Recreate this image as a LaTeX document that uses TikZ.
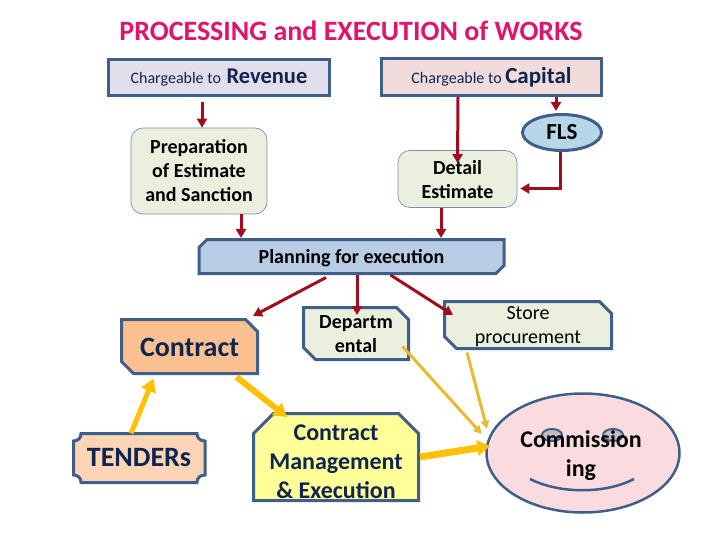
\documentclass[tikz,border=0pt]{standalone}
\usepackage{fontspec}
\setmainfont{Carlito}
\usetikzlibrary{shapes,shapes.misc,shapes.geometric,arrows.meta,positioning,calc}
\definecolor{edgeblue}{HTML}{3F5F8A}
\definecolor{navytext}{HTML}{0F2550}
\definecolor{arrowred}{HTML}{A00D1E}
\definecolor{arrowgold}{HTML}{FFC000}
\definecolor{thingold}{HTML}{EBB92E}
\definecolor{softgreen}{HTML}{EBF0DE}
\newcommand{\blankfill}{\phantom{\rule{40pt}{20pt}}}
\tikzset{
  headbox/.style={draw=edgeblue,line width=3pt,inner sep=0pt,text=navytext,align=center},
  softbox/.style={draw=edgeblue!70,line width=0.7pt,rounded corners=12pt,fill=softgreen,inner sep=0pt,align=center,font=\fontsize{20}{24}\selectfont\bfseries},
  snipbox/.style={chamfered rectangle,chamfered rectangle xsep=6pt,chamfered rectangle ysep=6pt,chamfered rectangle corners={north east,south west},draw=edgeblue,line width=3pt,inner sep=0pt,align=center},
  redline/.style={draw=arrowred,line width=3pt,-{Triangle[length=9pt,width=10pt]}},
  goldline/.style={draw=arrowgold,line width=#1,-{Triangle[length=13pt,width=15pt]}},
  thinline/.style={draw=thingold,line width=3pt,-{Triangle[length=8pt,width=8pt]}},
}
\begin{document}
\begin{tikzpicture}[x=1pt,y=-1pt]
  \useasboundingbox (0,0) rectangle (720,540);
  \node[text={rgb,255:red,224;green,20;blue,106}] (title) at (351,31) {\fontsize{28}{32}\selectfont\bfseries PROCESSING and EXECUTION of WORKS};
  % Heads
  \node[headbox,fill={rgb,255:red,227;green,222;blue,236},minimum width=221pt,minimum height=36pt] (revenue) at (219,77.5)
    {\fontsize{16}{18}\selectfont Chargeable to\hspace{2pt} \fontsize{22.5}{24}\selectfont\textbf{Revenue}};
  \node[headbox,fill={rgb,255:red,242;green,220;blue,219},minimum width=220pt,minimum height=37pt] (capital) at (491.5,77)
    {\fontsize{16}{18}\selectfont Chargeable to \fontsize{23}{24}\selectfont\textbf{Capital}};
  % Estimates
  \node[softbox,minimum width=136pt,minimum height=86pt] (prep) at (199,171) {Preparation\\of Estimate\\and Sanction};
  \node[softbox,minimum width=119pt,minimum height=57pt] (detail) at (457.5,179) {};
  \node[align=center,font=\fontsize{20}{24}\selectfont\bfseries] (detailtext) at (457.5,180) {Detail\\Estimate};
  \node[ellipse,draw=edgeblue,line width=3pt,fill={rgb,255:red,183;green,215;blue,232},minimum width=79pt,minimum height=36pt,inner sep=0pt] (fls) at (562,132.5)
    {\fontsize{23}{24}\selectfont\bfseries FLS};
  % Planning
  \node[chamfered rectangle,chamfered rectangle xsep=4pt,chamfered rectangle ysep=4pt,chamfered rectangle corners={north west,south east},
    draw=edgeblue,line width=3pt,fill={rgb,255:red,184;green,204;blue,228},minimum width=305pt,minimum height=34pt,inner sep=0pt] (planning) at (351.5,256.5) {\blankfill};
  \node[font=\fontsize{20}{22}\selectfont\bfseries] (planningtext) at (351.5,258.5) {Planning for execution};
  % Execution modes
  \node[snipbox,fill={rgb,255:red,250;green,192;blue,144},minimum width=136pt,minimum height=54pt] (contract) at (189.5,346.5) {\blankfill};
  \node[text=navytext,font=\fontsize{28}{30}\selectfont\bfseries] (contracttext) at (189.5,347.5) {Contract};
  \node[snipbox,fill=softgreen,minimum width=105pt,minimum height=52pt] (depart) at (356,333.5) {\blankfill};
  \node[align=center,font=\fontsize{20}{24}\selectfont\bfseries] (departtext) at (356,334.5) {Departm\\ental};
  \node[snipbox,fill=softgreen,minimum width=167pt,minimum height=47pt] (store) at (528,325) {\blankfill};
  \node[align=center,font=\fontsize{20}{24}\selectfont] (storetext) at (528,327) {Store\\procurement};
  \node[chamfered rectangle,chamfered rectangle xsep=10pt,chamfered rectangle ysep=10pt,chamfered rectangle corners={north east,north west},
    draw=edgeblue,line width=3pt,fill={rgb,255:red,255;green,255;blue,153},minimum width=165pt,minimum height=87pt,inner sep=0pt] (manage) at (336,457) {\blankfill};
  \node[text=navytext,align=center,font=\fontsize{24}{29}\selectfont\bfseries] (managetext) at (336,462) {Contract\\Management\\\& Execution};
  % Tenders
  \draw[edgeblue,line width=3pt,fill={rgb,255:red,251;green,213;blue,181}] (81,433.5) -- (197,433.5) .. controls (197,438) and (200,441) .. (205,441) -- (205,475)
    .. controls (200,475) and (197,478) .. (197,482.5) -- (81,482.5) .. controls (81,478) and (78,475) .. (73.5,475) -- (73.5,441)
    .. controls (78,441) and (81,438) .. (81,433.5) -- cycle;
  \node[text=navytext,minimum width=134pt,minimum height=49pt,inner sep=0pt] (tenders) at (139,458) {\fontsize{28}{30}\selectfont\bfseries TENDERs};
  % Commissioning face
  \node[ellipse,draw=edgeblue,line width=2.5pt,fill={rgb,255:red,250;green,220;blue,224},minimum width=193pt,minimum height=119pt,inner sep=0pt] (face) at (583,453) {};
  \foreach \a in {552,613}{
    \draw[edgeblue,line width=2pt,fill=gray!50] (\a,435) ellipse (10 and 6);
  }
  \draw[edgeblue,line width=2.5pt] (530,479) .. controls (560,494) and (605,494) .. (634,479);
  \node[align=center,font=\fontsize{24}{29}\selectfont\bfseries] (comm) at (581,456) {Commission\\ing};
  % Red arrows
  \draw[redline] ([xshift=-17pt,yshift=-5pt]revenue.south) -- ([xshift=3pt]prep.north);
  \draw[redline] ([xshift=42pt]prep.south) -- ([xshift=-110.5pt]planning.north);
  \draw[redline] ([xshift=-33.5pt]capital.south) -- ([yshift=-13pt]detail.north);
  \draw[redline] ([xshift=64.5pt]capital.south) -- ([xshift=-6pt,yshift=2pt]fls.north);
  \draw[redline] ([xshift=-2pt]fls.south) |- ([xshift=3pt,yshift=-9.5pt]detail.east);
  \draw[redline] ([xshift=-16.5pt]detail.south) -- ([xshift=89.5pt]planning.north);
  \draw[redline] ([xshift=-25.5pt,yshift=-2.5pt]planning.south) -- ([xshift=63.5pt,yshift=2pt]contract.north);
  \draw[redline] ([xshift=5.5pt]planning.south) -- ([xshift=1pt,yshift=-9pt]depart.north);
  \draw[redline] ([xshift=39pt]planning.south) -- ([xshift=-75pt,yshift=-15pt]store.north);
  % Gold arrows
  \draw[goldline=5pt] ([xshift=-8pt]tenders.north) -- ([xshift=-36pt,yshift=-3.5pt]contract.south);
  \draw[goldline=6pt] ([xshift=47pt,yshift=-2pt]contract.south) -- ([xshift=-49pt,yshift=-5pt]manage.north);
  \draw[goldline=7pt] (manage.east) -- ([xshift=5pt,yshift=7pt]face.west);
  \draw[thinline] ([xshift=-7.5pt,yshift=14.5pt]depart.south east) -- ([xshift=-3.5pt,yshift=19pt]face.west);
  \draw[thinline] ([xshift=-61pt,yshift=-2.5pt]store.south) -- ([xshift=-96pt,yshift=-36.5pt]face.north);
\end{tikzpicture}
\end{document}
